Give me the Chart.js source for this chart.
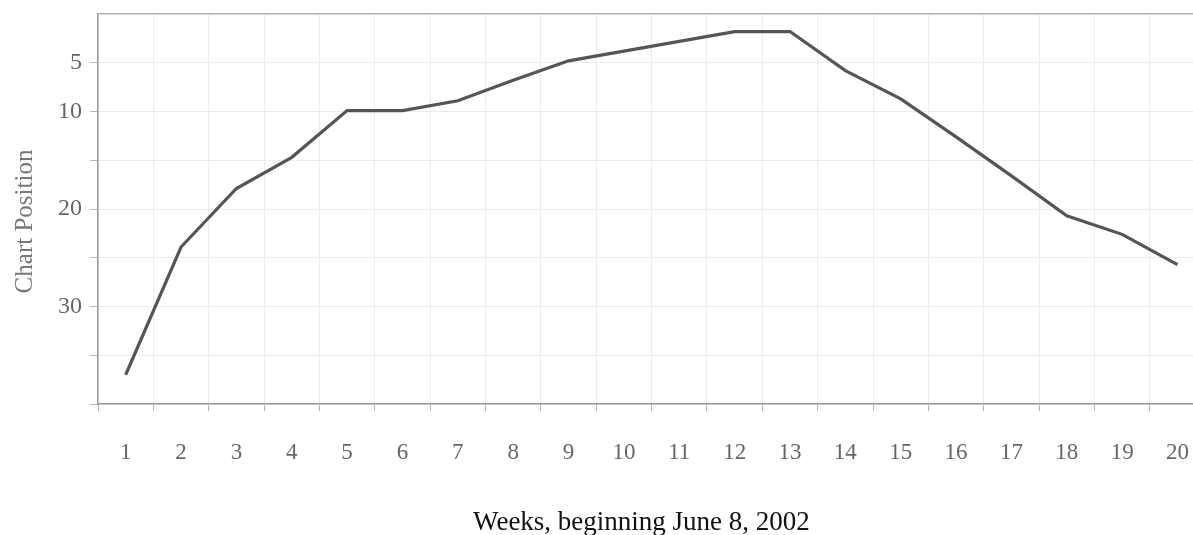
<!DOCTYPE html>
<html>
<head>
<meta charset="utf-8">
<script src="https://cdn.jsdelivr.net/npm/chart.js@4"></script>
<style>
  html, body { margin: 0; padding: 0; background: #fff; overflow: hidden; }
  #wrap { width: 1217px; height: 535px; }
</style>
</head>
<body>
<div id="wrap"><canvas id="chartPos" width="1217" height="535"></canvas></div>
<script>
// weeks from June 8, 2002
const weeks = ['1', '2', '3', '4', '5', '6', '7', '8', '9', '10',
               '11', '12', '13', '14', '15', '16', '17', '18', '19', '20'];
// position (1 = top)
const positions = [37, 23.9, 17.9, 14.7, 9.9, 9.9, 8.9, 6.8, 4.8, 3.8,
                   2.8, 1.8, 1.8, 5.8, 8.7, 12.6, 16.6, 20.7, 22.6, 25.7];
const yLabels = [5, 10, 20, 30];

const serif = "'Liberation Serif', 'DejaVu Serif', serif";

const ctx = document.getElementById('chartPos').getContext('2d');
new Chart(ctx, {
  type: 'line',
  data: {
    labels: weeks,
    datasets: [{
      data: positions,
      borderColor: '#555555',
      borderWidth: 3.2,
      pointRadius: 0,
      tension: 0,
      fill: false
    }]
  },
  options: {
    responsive: false,
    animation: false,
    layout: { padding: 0 },
    plugins: {
      legend: { display: false },
      tooltip: { enabled: false }
    },
    scales: {
      x: {
        offset: true,
        grid: {
          color: '#ebebeb',
          tickColor: '#b5b5b5',
          tickLength: 7,
          offset: true
        },
        border: { color: '#9a9a9a', width: 1.5 },
        ticks: {
          color: '#666',
          padding: 28,
          font: { family: serif, size: 23 }
        },
        title: {
          display: true,
          // trailing spaces nudge it a bit left, like the original
          text: 'Weeks, beginning June 8, 2002   ',
          color: '#111',
          font: { family: serif, size: 27, lineHeight: 0.9 },
          padding: { top: 0, bottom: 0 }
        },
        afterFit: (scale) => { scale.height = 131; }
      },
      y: {
        reverse: true,
        min: 0,
        max: 40,
        grid: {
          color: (c) => (c.tick && c.tick.value === 0 ? '#b0b0b0' : '#ebebeb'),
          tickColor: (c) => (c.tick && c.tick.value === 0 ? 'rgba(0,0,0,0)' : '#b5b5b5'),
          tickLength: 8,
          lineWidth: (c) => (c.tick && c.tick.value === 0 ? 1.5 : 1)
        },
        border: { color: '#9a9a9a', width: 1.5 },
        ticks: {
          stepSize: 5,
          color: '#666',
          padding: 8,
          font: { family: serif, size: 24, lineHeight: 0.5 },
          callback: (v) => (yLabels.includes(v) ? String(v) : '')
        },
        title: {
          display: true,
          text: 'Chart Position    ',
          color: '#777',
          font: { family: serif, size: 25 },
          padding: { top: 10, bottom: 0 }
        },
        afterFit: (scale) => { scale.width = 98; }
      }
    }
  }
});
</script>
</body>
</html>
